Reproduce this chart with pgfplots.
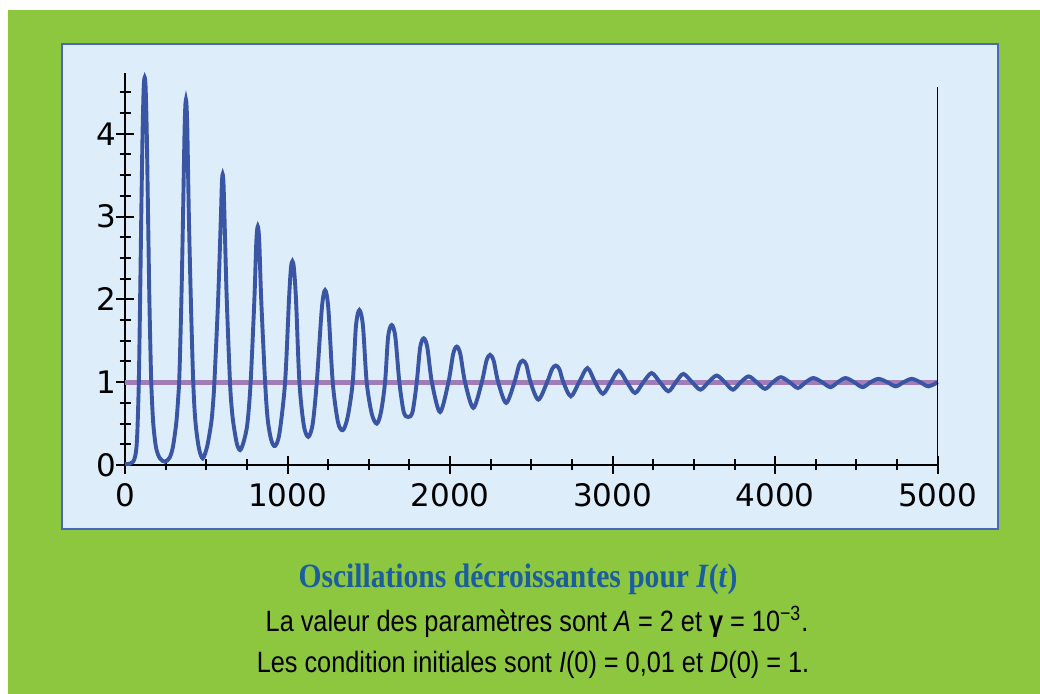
\documentclass[border=0pt]{standalone}
\usepackage{pgfplots}
\pgfplotsset{compat=1.18}
\usepackage{fontspec}
\setmainfont{Liberation Sans}
\newfontfamily\tickfont{DejaVu Sans}
\newfontfamily\capsans{Liberation Sans}[FakeStretch=0.86]
\newfontfamily\capserif{Liberation Serif}[FakeStretch=0.87]
\definecolor{bggreen}{HTML}{8DC63F}
\definecolor{panelblue}{HTML}{DDEEFA}
\definecolor{panelborder}{HTML}{4A67BE}
\definecolor{curveblue}{HTML}{3A55A4}
\definecolor{eqpurple}{HTML}{A07CB8}
\definecolor{titleblue}{HTML}{1B5E9F}
\begin{document}
\begin{tikzpicture}
\fill[white] (0,0) rectangle (520bp,347bp);
\fill[bggreen] (4bp,0) rectangle (520bp,342bp);
\filldraw[fill=panelblue, draw=panelborder, line width=1.2bp] (31bp,82.5bp) rectangle (499bp,325bp);
\begin{axis}[
  at={(62.5bp,114.5bp)}, anchor=south west,
  scale only axis, width=406.35bp, height=195.85bp,
  xmin=0, xmax=5000, ymin=0, ymax=4.73,
  axis lines=left, axis line style={-, line width=1.1bp, black},
  tick align=center, major tick length=9bp, minor tick length=5.5bp,
  every tick/.style={black, line width=1bp},
  xtick={0,1000,2000,3000,4000,5000}, ytick={0,1,2,3,4},
  minor xtick={250,500,750,1250,1500,1750,2250,2500,2750,3250,3500,3750,4250,4500,4750},
  minor ytick={0.25,0.5,0.75,1.25,1.5,1.75,2.25,2.5,2.75,3.25,3.5,3.75,4.25,4.5},
  tick label style={font=\tickfont\fontsize{15.5bp}{15.5bp}\selectfont},
  /pgf/number format/assume math mode=true,
  /pgf/number format/1000 sep={},
  xticklabel style={yshift=-1bp},
  yticklabel style={xshift=3.5bp},
  clip=false,
]
\addplot[eqpurple, line width=2.5bp] coordinates {(0,1) (5000,1)};
\addplot[curveblue, line width=1.95bp, smooth] coordinates {
(0,0.01)(30,0.015)(50,0.04)(62,0.1)(70,0.2)(76,0.4)(81,0.7)(86,1.1)(93,2.0)(100,3.0)(108,4.0)(115,4.55)(121,4.68)(127,4.55)(134,4.0)(142,3.0)(150,2.0)(160,1.1)(168,0.7)(176,0.45)(192,0.2)(215,0.08)(246,0.04)(275,0.09)(295,0.22)(315,0.5)(327,0.8)(335,1.1)(347,2.0)(357,3.0)(366,4.0)(371,4.33)(375,4.41)(379,4.33)(384,4.0)(393,3.0)(405,2.0)(418,1.1)(427,0.7)(437,0.45)(455,0.2)(478,0.08)(505,0.22)(530,0.5)(540,0.7)(550,1.0)(573,2.0)(590,3.0)(596,3.4)(601,3.51)(606,3.4)(612,3.0)(626,2.0)(646,1.0)(656,0.7)(667,0.5)(688,0.26)(708,0.18)(730,0.28)(753,0.5)(773,1.0)(796,2.0)(808,2.7)(817,2.88)(826,2.7)(838,2.0)(862,1.0)(878,0.55)(900,0.3)(923,0.23)(950,0.38)(985,1.0)(1009,2.0)(1021,2.38)(1030,2.46)(1039,2.38)(1052,2.0)(1073,1.0)(1100,0.48)(1128,0.34)(1155,0.5)(1180,1.0)(1211,1.89)(1231,2.11)(1251,1.89)(1278,1.0)(1310,0.52)(1340,0.42)(1370,0.58)(1401,1.0)(1421,1.68)(1442,1.87)(1464,1.68)(1487,1.0)(1518,0.62)(1549,0.50)(1575,0.64)(1600,1.0)(1619,1.55)(1641,1.69)(1663,1.55)(1688,1.0)(1715,0.64)(1742,0.58)(1769,0.64)(1795,1.0)(1816,1.42)(1838,1.53)(1860,1.42)(1888,1.0)(1938,0.64)(1990,1.0)(2019,1.34)(2041,1.43)(2063,1.34)(2092,1.0)(2143,0.69)(2195,1.0)(2224,1.26)(2246,1.33)(2268,1.26)(2296,1.0)(2345,0.75)(2396,1.0)(2425,1.21)(2447,1.26)(2469,1.21)(2495,1.0)(2543,0.79)(2597,1.0)(2628,1.16)(2650,1.20)(2672,1.16)(2697,1.0)(2743,0.83)(2794,1.0)(2845,1.17)(2892,1.0)(2940,0.86)(2989,1.0)(3038,1.14)(3088,1.0)(3138,0.87)(3189,1.0)(3240,1.11)(3291,1.0)(3343,0.89)(3389,1.0)(3435,1.10)(3489,1.0)(3540,0.91)(3590,1.0)(3640,1.08)(3690,1.0)(3740,0.91)(3788,1.0)(3837,1.07)(3886,1.0)(3938,0.92)(3986,1.0)(4035,1.06)(4089,1.0)(4140,0.93)(4188,1.0)(4235,1.05)(4289,1.0)(4340,0.94)(4386,1.0)(4433,1.05)(4486,1.0)(4538,0.94)(4587,1.0)(4636,1.04)(4690,1.0)(4742,0.95)(4790,1.0)(4840,1.04)(4892,1.0)(4943,0.95)(5000,1.0)
};
\draw[black, line width=0.8bp] (axis cs:5000,-0.1) -- (axis cs:5000,4.56);
\end{axis}
\node[anchor=base, text=titleblue, font=\capserif\bfseries\fontsize{17bp}{17bp}\selectfont, inner sep=0pt] at (259bp,53bp) {Oscillations décroissantes pour \textit{I}(\textit{t})};
\node[anchor=base, text=black, font=\capsans\fontsize{14.7bp}{14.7bp}\selectfont, inner sep=0pt] at (268.5bp,31.5bp) {La valeur des paramètres sont \textit{A} = 2 et \textbf{γ} = 10\textsuperscript{−3}.};
\node[anchor=base, text=black, font=\capsans\fontsize{14.7bp}{14.7bp}\selectfont, inner sep=0pt] at (266.5bp,11bp) {Les condition initiales sont \textit{I}(0) = 0,01 et \textit{D}(0) = 1.};
\end{tikzpicture}
\end{document}
